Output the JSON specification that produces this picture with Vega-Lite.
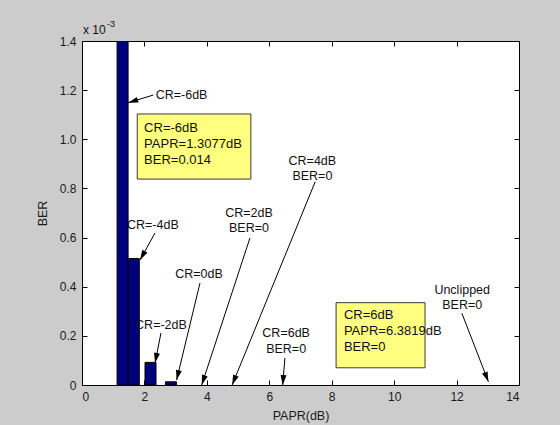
{
  "$schema": "https://vega.github.io/schema/vega-lite/v6.json",
  "width": 437,
  "height": 344,
  "autosize": {"type": "none"},
  "padding": {"left": 82, "top": 41, "right": 41, "bottom": 40},
  "background": "#cccccc",
  "config": {
    "view": {"fill": "white", "stroke": "#000000", "strokeWidth": 1},
    "font": "Liberation Sans",
    "axis": {
      "grid": false,
      "domain": false,
      "ticks": true,
      "tickColor": "#000000",
      "tickSize": -5,
      "labelPadding": 11,
      "labelFont": "Liberation Sans",
      "labelFontSize": 12,
      "labelColor": "#1a1a1a",
      "titleFont": "Liberation Sans",
      "titleFontSize": 12.5,
      "titleFontWeight": "normal",
      "titleColor": "#1a1a1a"
    }
  },
  "datasets": {
    "bars": [
      {"papr": 1.30, "ber": 0.014},
      {"papr": 1.66, "ber": 0.000515},
      {"papr": 2.195, "ber": 0.000092},
      {"papr": 2.85, "ber": 0.000013}
    ],
    "arrows": [
      {"id": "a1", "x": 2.285, "y": 0.00118, "tx": 1.48, "ty": 0.001149},
      {"id": "a2", "x": 2.34, "y": 0.000619, "tx": 1.86, "ty": 0.000509},
      {"id": "a3", "x": 2.53, "y": 0.000212, "tx": 2.34, "ty": 0.0000895},
      {"id": "a4", "x": 3.78, "y": 0.000415, "tx": 3.03, "ty": 0.00002},
      {"id": "a5", "x": 5.38, "y": 0.000598, "tx": 3.835, "ty": 0},
      {"id": "a6", "x": 7.47, "y": 0.000827, "tx": 4.81, "ty": 0},
      {"id": "a7", "x": 6.50, "y": 0.00011, "tx": 6.43, "ty": 0},
      {"id": "a8", "x": 12.17, "y": 0.000292, "tx": 13.02, "ty": 0.000013}
    ],
    "labels": [
      {"text": "CR=-6dB", "x": 3.19, "y": 0.00118},
      {"text": "CR=-4dB", "x": 2.27, "y": 0.000651},
      {"text": "CR=-2dB", "x": 2.53, "y": 0.000244},
      {"text": "CR=0dB", "x": 3.75, "y": 0.000452},
      {"text": "CR=2dB\nBER=0", "x": 5.35, "y": 0.000701},
      {"text": "CR=4dB\nBER=0", "x": 7.38, "y": 0.000913},
      {"text": "CR=6dB\nBER=0", "x": 6.54, "y": 0.00021},
      {"text": "Unclipped\nBER=0", "x": 12.18, "y": 0.000387}
    ],
    "boxes": [
      {"x1": 1.77, "x2": 5.41, "y1": 0.001103, "y2": 0.000838, "tx": 1.99, "ty": 0.001046, "text": "CR=-6dB\nPAPR=1.3077dB\nBER=0.014"},
      {"x1": 8.14, "x2": 10.99, "y1": 0.000335, "y2": 0.00007, "tx": 8.39, "ty": 0.000285, "text": "CR=6dB\nPAPR=6.3819dB\nBER=0"}
    ],
    "one": [{}]
  },
  "layer": [
    {
      "data": {"name": "bars"},
      "mark": {"type": "bar", "size": 11, "color": "#00007f", "stroke": "#000000", "strokeWidth": 1, "clip": true},
      "encoding": {
        "x": {
          "field": "papr", "type": "quantitative",
          "scale": {"domain": [0, 14], "nice": false, "zero": false, "padding": 0},
          "axis": {"orient": "bottom", "values": [0, 2, 4, 6, 8, 10, 12, 14], "title": "PAPR(dB)", "titlePadding": 7}
        },
        "y": {
          "field": "ber", "type": "quantitative",
          "scale": {"domain": [0, 0.0014], "nice": false, "zero": true},
          "axis": {
            "orient": "left",
            "values": [0, 0.0002, 0.0004, 0.0006, 0.0008, 0.001, 0.0012, 0.0014],
            "labelExpr": "datum.value == 0 ? '0' : format(datum.value * 1000, '.1f')",
            "title": "BER", "titlePadding": 10
          }
        },
        "y2": {"datum": 0}
      }
    },
    {
      "data": {"name": "bars"},
      "mark": {"type": "point", "opacity": 0},
      "encoding": {
        "x": {
          "field": "papr", "type": "quantitative",
          "axis": {"orient": "top", "values": [0, 2, 4, 6, 8, 10, 12, 14], "labels": false, "title": null}
        },
        "y": {
          "field": "ber", "type": "quantitative",
          "axis": {"orient": "right", "values": [0, 0.0002, 0.0004, 0.0006, 0.0008, 0.001, 0.0012, 0.0014], "labels": false, "title": null}
        }
      }
    },
    {
      "data": {"name": "boxes"},
      "mark": {"type": "rect", "fill": "#ffff80", "stroke": "#3a3a3a", "strokeWidth": 1},
      "encoding": {
        "x": {"field": "x1", "type": "quantitative", "axis": null},
        "x2": {"field": "x2"},
        "y": {"field": "y1", "type": "quantitative", "axis": null},
        "y2": {"field": "y2"}
      }
    },
    {
      "data": {"name": "arrows"},
      "mark": {"type": "rule", "color": "#000000", "strokeWidth": 1},
      "encoding": {
        "x": {"field": "x", "type": "quantitative", "axis": null},
        "y": {"field": "y", "type": "quantitative", "axis": null},
        "x2": {"field": "tx"},
        "y2": {"field": "ty"}
      }
    },
    {
      "data": {"name": "arrows"},
      "mark": {"type": "point", "shape": "M0,0L-0.3,1L0.3,1Z", "filled": true, "color": "#000000", "opacity": 1, "size": 400, "strokeWidth": 0},
      "encoding": {
        "x": {"field": "tx", "type": "quantitative", "axis": null},
        "y": {"field": "ty", "type": "quantitative", "axis": null},
        "angle": {
          "field": "id", "type": "nominal", "legend": null,
          "scale": {"type": "ordinal", "domain": ["a1", "a2", "a3", "a4", "a5", "a6", "a7", "a8"], "range": [253, 209, 191.3, 193.5, 198.2, 202.2, 184.7, 158.75]}
        }
      }
    },
    {
      "data": {"name": "labels"},
      "mark": {"type": "text", "align": "center", "baseline": "middle", "lineBreak": "\n", "lineHeight": 15.5, "fontSize": 12.5, "color": "#111111"},
      "encoding": {
        "x": {"field": "x", "type": "quantitative", "axis": null},
        "y": {"field": "y", "type": "quantitative", "axis": null},
        "text": {"field": "text"}
      }
    },
    {
      "data": {"name": "boxes"},
      "mark": {"type": "text", "align": "left", "baseline": "middle", "lineBreak": "\n", "lineHeight": 16, "fontSize": 13, "color": "#111111"},
      "encoding": {
        "x": {"field": "tx", "type": "quantitative", "axis": null},
        "y": {"field": "ty", "type": "quantitative", "axis": null},
        "text": {"field": "text"}
      }
    },
    {
      "data": {"name": "one"},
      "mark": {"type": "text", "text": "x 10", "align": "left", "baseline": "middle", "fontSize": 12, "dx": 1, "dy": -11, "color": "#111111"},
      "encoding": {
        "x": {"datum": 0, "type": "quantitative", "axis": null},
        "y": {"datum": 0.0014, "type": "quantitative", "axis": null}
      }
    },
    {
      "data": {"name": "one"},
      "mark": {"type": "text", "text": "-3", "align": "left", "baseline": "middle", "fontSize": 9, "dx": 25, "dy": -17, "color": "#111111"},
      "encoding": {
        "x": {"datum": 0, "type": "quantitative", "axis": null},
        "y": {"datum": 0.0014, "type": "quantitative", "axis": null}
      }
    }
  ],
  "resolve": {"axis": {"x": "independent", "y": "independent"}}
}
